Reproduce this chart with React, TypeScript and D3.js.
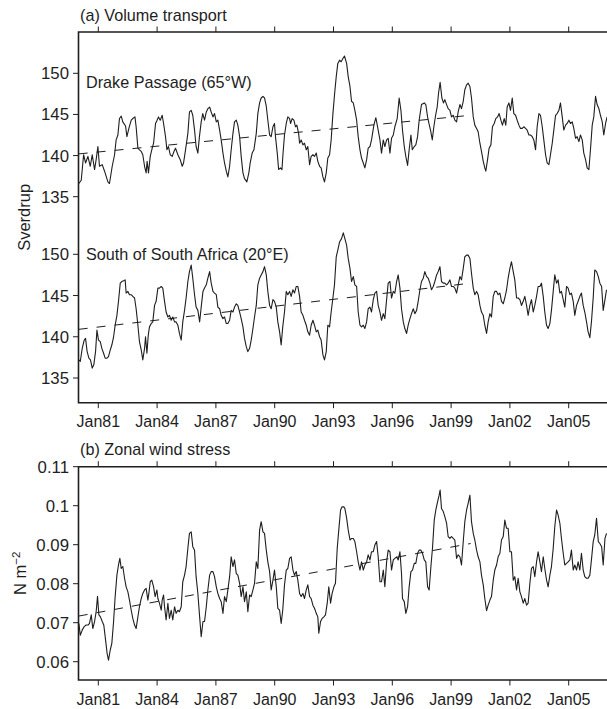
import React from "react";
import * as d3 from "d3";

// time axis ticks
const tickYears = [1981, 1984, 1987, 1990, 1993, 1996, 1999, 2002, 2005];
const tickLabels = ["Jan81", "Jan84", "Jan87", "Jan90", "Jan93", "Jan96", "Jan99", "Jan02", "Jan05"];
const transportTicks = [135, 140, 145, 150];
const windTicks = [0.06, 0.07, 0.08, 0.09, 0.1, 0.11];
const windTickLabels = ["0.06", "0.07", "0.08", "0.09", "0.1", "0.11"];

// trend lines: [year, value]
const drakeTrend: [number, number][] = [[1980, 140.2], [2000, 144.9]];
const africaTrend: [number, number][] = [[1980, 140.9], [2000, 146.5]];
const windTrend: [number, number][] = [[1980, 0.0717], [2000, 0.0903]];

// series: [years since Jan 1980, value]
const drake: [number, number][] = [
  [0.01,136.6],[0.13,137.0],[0.25,140.1],[0.35,139.1],[0.47,139.9],[0.59,138.7],[0.69,140.1],[0.81,138.3],[0.89,139.5],[0.98,141.1],
  [1.06,138.7],[1.20,138.9],[1.32,138.1],[1.49,136.8],[1.57,136.6],[1.71,138.7],[1.83,140.1],[1.91,141.9],[2.00,142.5],[2.08,144.5],
  [2.17,144.8],[2.25,144.1],[2.39,143.6],[2.46,142.3],[2.56,143.3],[2.68,144.3],[2.76,144.5],[2.87,144.7],[2.93,143.5],[3.02,140.9],
  [3.10,140.7],[3.19,140.5],[3.27,140.1],[3.36,138.7],[3.44,137.9],[3.49,139.3],[3.56,137.9],[3.65,139.9],[3.75,140.9],[3.82,141.5],
  [3.92,143.9],[4.00,144.3],[4.07,144.7],[4.16,144.3],[4.26,144.9],[4.33,143.9],[4.43,142.3],[4.50,140.7],[4.58,141.1],[4.67,140.1],
  [4.77,139.9],[4.86,140.5],[4.94,140.9],[5.06,140.1],[5.18,139.5],[5.28,138.7],[5.35,139.1],[5.45,140.7],[5.57,142.7],[5.65,145.3],
  [5.74,145.5],[5.82,144.9],[5.91,143.1],[5.99,141.1],[6.08,140.3],[6.16,142.3],[6.25,144.1],[6.33,145.1],[6.42,144.3],[6.51,145.3],
  [6.59,145.7],[6.68,145.9],[6.76,145.3],[6.85,144.7],[6.93,145.1],[7.02,144.1],[7.10,144.3],[7.19,143.1],[7.27,141.9],[7.36,140.3],
  [7.44,139.1],[7.53,138.1],[7.61,137.4],[7.70,138.7],[7.78,140.7],[7.87,142.7],[7.95,144.1],[8.04,144.3],[8.12,143.7],[8.21,142.3],
  [8.29,139.9],[8.38,137.9],[8.46,137.2],[8.58,136.8],[8.68,137.9],[8.75,139.1],[8.85,140.3],[8.94,140.7],[9.06,142.7],[9.14,145.1],
  [9.23,146.4],[9.31,147.0],[9.40,147.2],[9.48,147.0],[9.57,146.0],[9.65,144.3],[9.74,142.5],[9.82,142.3],[9.91,143.5],[9.99,143.9],
  [10.04,142.3],[10.13,140.3],[10.20,138.3],[10.29,138.5],[10.37,138.3],[10.42,140.1],[10.50,142.5],[10.59,143.9],[10.67,144.7],[10.76,144.5],
  [10.81,143.9],[10.89,144.5],[10.98,144.3],[11.06,143.5],[11.13,143.7],[11.22,142.7],[11.27,141.5],[11.35,141.9],[11.44,141.3],[11.52,141.5],
  [11.61,140.7],[11.69,141.1],[11.78,138.9],[11.86,139.9],[11.95,140.1],[12.03,139.9],[12.12,140.3],[12.20,139.3],[12.29,138.7],[12.37,138.5],
  [12.46,137.4],[12.54,136.8],[12.63,137.9],[12.71,139.7],[12.80,140.1],[12.88,141.9],[12.97,145.1],[13.06,147.6],[13.14,149.6],[13.22,151.2],
  [13.31,151.6],[13.39,151.4],[13.48,151.8],[13.56,152.1],[13.67,151.2],[13.75,149.6],[13.84,148.4],[13.92,146.6],[14.01,146.4],[14.09,145.5],
  [14.18,144.3],[14.26,142.3],[14.35,140.7],[14.43,139.7],[14.52,139.1],[14.60,138.5],[14.69,139.5],[14.77,140.9],[14.86,141.1],[14.94,141.9],
  [15.06,143.7],[15.16,144.6],[15.25,143.5],[15.37,141.9],[15.45,140.3],[15.54,141.9],[15.62,141.1],[15.71,141.9],[15.79,142.1],[15.88,140.3],
  [15.96,142.1],[16.05,142.5],[16.13,143.5],[16.25,144.5],[16.35,147.0],[16.44,145.5],[16.52,143.1],[16.61,141.1],[16.69,139.9],[16.78,138.8],
  [16.86,140.7],[16.95,142.5],[17.02,140.7],[17.12,141.1],[17.20,141.3],[17.29,142.3],[17.37,144.3],[17.49,146.2],[17.63,146.4],[17.71,146.2],
  [17.80,144.7],[17.87,143.9],[17.95,143.1],[18.04,141.9],[18.12,143.5],[18.21,144.9],[18.29,145.9],[18.36,147.6],[18.44,148.9],[18.53,147.0],
  [18.61,146.4],[18.68,146.8],[18.77,146.2],[18.85,145.7],[18.94,145.5],[19.02,144.7],[19.11,144.9],[19.19,144.3],[19.28,144.1],[19.36,145.3],
  [19.45,146.2],[19.53,145.7],[19.62,146.6],[19.70,148.0],[19.79,148.6],[19.87,148.8],[19.96,148.4],[20.04,147.0],[20.13,144.7],[20.21,143.7],
  [20.30,143.3],[20.38,142.9],[20.47,141.5],[20.55,140.5],[20.64,139.3],[20.72,138.5],[20.77,138.1],[20.86,139.5],[20.94,140.9],[21.03,141.3],
  [21.11,143.5],[21.20,143.9],[21.28,144.5],[21.37,144.7],[21.45,145.1],[21.54,144.3],[21.62,143.7],[21.71,144.5],[21.79,143.7],[21.86,145.9],
  [21.95,146.4],[22.03,145.5],[22.12,147.0],[22.20,145.1],[22.29,144.9],[22.37,144.3],[22.46,143.7],[22.54,143.3],[22.63,143.3],[22.71,143.5],
  [22.80,143.3],[22.88,143.1],[22.97,142.5],[23.05,142.5],[23.14,142.3],[23.22,141.9],[23.31,140.7],[23.39,143.5],[23.48,145.1],[23.56,144.9],
  [23.65,143.5],[23.73,141.9],[23.82,140.1],[23.90,139.1],[23.99,138.9],[24.07,140.1],[24.16,141.5],[24.24,143.1],[24.33,144.9],[24.41,145.1],
  [24.50,145.5],[24.58,146.4],[24.67,144.7],[24.75,143.1],[24.84,143.7],[24.92,143.9],[25.01,144.3],[25.09,143.9],[25.18,144.1],[25.26,143.3],
  [25.35,142.1],[25.43,142.3],[25.52,141.7],[25.60,142.5],[25.69,141.9],[25.77,140.3],[25.86,139.5],[25.94,138.5],[26.03,138.3],[26.11,140.7],
  [26.20,143.7],[26.28,144.7],[26.37,147.2],[26.45,146.2],[26.54,145.7],[26.62,144.9],[26.71,144.1],[26.79,142.5],[26.88,143.9],[26.96,144.7]
];

const africa: [number, number][] = [
  [0.01,137.2],[0.08,137.0],[0.18,138.6],[0.28,139.6],[0.35,139.8],[0.43,138.2],[0.52,137.4],[0.60,137.2],[0.69,136.2],[0.77,136.6],
  [0.86,138.2],[0.93,140.8],[1.01,139.6],[1.10,139.4],[1.18,138.6],[1.27,138.0],[1.35,137.4],[1.44,137.4],[1.52,137.6],[1.61,138.4],
  [1.69,139.0],[1.78,140.0],[1.86,141.4],[1.95,142.6],[2.03,144.3],[2.12,146.5],[2.20,146.7],[2.29,146.8],[2.37,146.9],[2.42,145.3],
  [2.51,145.5],[2.59,145.1],[2.68,145.1],[2.76,144.9],[2.85,144.7],[2.93,143.4],[3.02,141.4],[3.10,139.4],[3.19,138.4],[3.27,137.2],
  [3.36,138.6],[3.41,140.0],[3.48,138.0],[3.55,140.2],[3.61,141.2],[3.70,141.6],[3.78,141.8],[3.87,143.8],[3.95,144.3],[4.04,145.9],
  [4.12,145.9],[4.21,146.1],[4.29,145.9],[4.38,144.3],[4.46,143.0],[4.55,142.4],[4.63,142.6],[4.72,142.0],[4.80,142.4],[4.89,141.8],
  [4.97,141.8],[5.06,141.4],[5.14,140.4],[5.23,139.6],[5.31,141.8],[5.40,143.2],[5.48,144.7],[5.57,146.7],[5.65,147.9],[5.74,148.7],
  [5.82,147.1],[5.91,145.1],[5.99,143.6],[6.08,143.2],[6.17,141.8],[6.25,143.6],[6.34,145.5],[6.42,145.9],[6.51,146.3],[6.59,147.1],
  [6.68,147.9],[6.76,146.5],[6.85,145.5],[6.93,145.3],[7.02,145.1],[7.10,143.6],[7.19,143.4],[7.27,142.6],[7.36,142.2],[7.44,142.4],
  [7.53,141.6],[7.61,141.6],[7.70,142.0],[7.78,143.2],[7.87,143.0],[7.95,143.6],[8.04,144.0],[8.12,143.8],[8.21,143.0],[8.29,142.2],
  [8.38,141.2],[8.46,139.8],[8.55,138.8],[8.63,138.2],[8.72,138.6],[8.80,139.6],[8.89,141.0],[8.97,142.4],[9.06,143.8],[9.14,146.3],
  [9.23,147.1],[9.31,147.5],[9.40,147.9],[9.48,148.5],[9.57,147.5],[9.65,145.5],[9.74,143.8],[9.82,143.4],[9.91,144.5],[9.99,144.3],
  [10.08,143.6],[10.16,141.8],[10.25,140.6],[10.33,139.0],[10.41,141.2],[10.50,143.0],[10.59,145.5],[10.67,145.1],[10.76,145.5],[10.84,144.9],
  [10.93,145.7],[11.01,145.3],[11.10,146.1],[11.18,146.1],[11.27,144.9],[11.35,143.0],[11.44,142.6],[11.52,142.0],[11.61,141.4],[11.69,140.6],
  [11.78,140.2],[11.86,141.4],[11.95,142.0],[12.03,141.4],[12.12,140.6],[12.20,140.8],[12.29,140.0],[12.37,139.6],[12.46,137.8],[12.54,137.2],
  [12.63,138.2],[12.71,141.4],[12.80,141.2],[12.88,143.0],[12.97,144.7],[13.05,146.3],[13.14,149.7],[13.22,150.5],[13.31,151.5],[13.41,151.9],
  [13.50,152.6],[13.58,151.9],[13.67,151.1],[13.75,149.5],[13.84,148.3],[13.92,146.7],[14.01,147.3],[14.09,146.3],[14.18,146.1],[14.26,143.0],
  [14.35,141.4],[14.43,141.2],[14.52,141.4],[14.60,141.0],[14.69,141.8],[14.77,143.4],[14.86,143.6],[14.94,143.0],[15.03,144.5],[15.11,145.3],
  [15.20,145.5],[15.28,143.8],[15.37,143.0],[15.45,142.0],[15.54,142.8],[15.62,142.2],[15.71,144.5],[15.79,146.5],[15.88,146.7],[15.96,144.7],
  [16.05,145.5],[16.13,145.3],[16.22,146.7],[16.30,147.5],[16.39,145.9],[16.47,143.4],[16.56,141.8],[16.64,141.0],[16.73,140.4],[16.81,141.4],
  [16.90,142.2],[16.98,142.8],[17.07,143.4],[17.15,142.8],[17.24,143.2],[17.32,144.3],[17.41,145.7],[17.49,146.7],[17.58,147.1],[17.66,147.9],
  [17.75,147.3],[17.83,147.1],[17.92,146.5],[18.00,145.7],[18.09,146.1],[18.17,146.7],[18.26,147.5],[18.34,147.9],[18.43,148.5],[18.51,146.7],
  [18.60,146.5],[18.68,146.5],[18.77,146.3],[18.85,146.5],[18.94,146.9],[19.02,146.1],[19.11,146.1],[19.19,145.9],[19.28,145.3],[19.36,146.3],
  [19.45,147.3],[19.53,146.9],[19.62,148.3],[19.70,149.7],[19.79,149.9],[19.87,149.9],[19.96,149.5],[20.04,147.7],[20.13,145.9],[20.21,145.1],
  [20.30,145.5],[20.38,145.1],[20.47,143.8],[20.55,143.0],[20.64,142.6],[20.72,141.4],[20.81,140.4],[20.89,141.8],[20.98,142.8],[21.06,142.4],
  [21.15,144.9],[21.23,145.5],[21.32,145.5],[21.40,145.1],[21.49,145.3],[21.57,144.3],[21.66,144.0],[21.74,144.7],[21.83,145.7],[21.91,147.1],
  [22.00,148.3],[22.08,149.1],[22.17,147.9],[22.25,146.9],[22.34,144.7],[22.42,144.7],[22.51,144.5],[22.59,143.8],[22.68,144.3],[22.76,144.9],
  [22.85,143.8],[22.93,142.6],[23.02,143.8],[23.10,144.5],[23.19,143.0],[23.27,143.8],[23.36,144.9],[23.44,146.1],[23.53,146.1],[23.61,146.5],
  [23.70,144.9],[23.78,143.0],[23.87,141.4],[23.95,141.0],[24.04,141.6],[24.12,143.2],[24.21,145.5],[24.29,147.5],[24.38,146.5],[24.46,146.9],
  [24.55,145.3],[24.63,145.5],[24.72,144.5],[24.80,143.6],[24.89,146.1],[24.97,145.9],[25.06,145.1],[25.14,145.3],[25.23,144.3],[25.31,142.6],
  [25.40,143.8],[25.48,144.3],[25.57,144.9],[25.65,145.3],[25.74,143.8],[25.82,143.0],[25.91,141.8],[25.99,140.6],[26.08,139.9],[26.16,141.8],
  [26.25,144.7],[26.33,148.1],[26.42,147.9],[26.51,147.3],[26.59,146.5],[26.68,146.1],[26.76,143.2],[26.85,144.5],[26.93,145.7]
];

const wind: [number, number][] = [
  [0.01,0.0698],[0.08,0.0668],[0.18,0.0681],[0.28,0.0690],[0.38,0.0694],[0.48,0.0694],[0.55,0.0698],[0.64,0.0720],[0.72,0.0685],[0.81,0.0703],
  [0.89,0.0728],[0.96,0.0768],[1.03,0.0720],[1.11,0.0715],[1.20,0.0703],[1.28,0.0694],[1.37,0.0656],[1.45,0.0621],[1.52,0.0604],[1.61,0.0630],
  [1.69,0.0647],[1.78,0.0703],[1.86,0.0767],[1.95,0.0822],[2.03,0.0848],[2.10,0.0865],[2.17,0.0839],[2.25,0.0844],[2.34,0.0814],[2.42,0.0792],
  [2.51,0.0779],[2.59,0.0758],[2.68,0.0732],[2.76,0.0711],[2.85,0.0694],[2.93,0.0685],[3.02,0.0715],[3.10,0.0741],[3.19,0.0762],[3.27,0.0775],
  [3.36,0.0784],[3.44,0.0788],[3.53,0.0758],[3.58,0.0775],[3.65,0.0805],[3.73,0.0809],[3.82,0.0792],[3.90,0.0767],[3.99,0.0784],[4.04,0.0762],
  [4.12,0.0750],[4.21,0.0732],[4.26,0.0758],[4.33,0.0771],[4.38,0.0741],[4.46,0.0707],[4.55,0.0750],[4.63,0.0711],[4.72,0.0732],[4.80,0.0707],
  [4.89,0.0741],[4.97,0.0724],[5.06,0.0732],[5.14,0.0728],[5.23,0.0741],[5.31,0.0805],[5.40,0.0822],[5.48,0.0844],[5.57,0.0891],[5.65,0.0929],
  [5.74,0.0933],[5.82,0.0895],[5.91,0.0886],[5.99,0.0818],[6.08,0.0775],[6.17,0.0715],[6.25,0.0664],[6.34,0.0703],[6.42,0.0703],[6.51,0.0741],
  [6.59,0.0784],[6.68,0.0822],[6.76,0.0831],[6.85,0.0831],[6.93,0.0818],[7.02,0.0792],[7.10,0.0775],[7.19,0.0762],[7.27,0.0754],[7.36,0.0724],
  [7.44,0.0767],[7.53,0.0754],[7.61,0.0784],[7.70,0.0818],[7.78,0.0869],[7.87,0.0844],[7.95,0.0861],[8.04,0.0826],[8.12,0.0822],[8.21,0.0801],
  [8.29,0.0767],[8.38,0.0792],[8.46,0.0754],[8.55,0.0779],[8.63,0.0728],[8.72,0.0771],[8.80,0.0767],[8.89,0.0784],[8.97,0.0801],[9.06,0.0856],
  [9.14,0.0839],[9.23,0.0938],[9.31,0.0959],[9.40,0.0933],[9.48,0.0929],[9.57,0.0886],[9.65,0.0856],[9.74,0.0831],[9.82,0.0784],[9.91,0.0809],
  [9.99,0.0835],[10.08,0.0792],[10.16,0.0737],[10.25,0.0732],[10.33,0.0698],[10.41,0.0732],[10.50,0.0797],[10.59,0.0835],[10.67,0.0839],[10.76,0.0865],
  [10.84,0.0869],[10.93,0.0835],[11.01,0.0822],[11.10,0.0831],[11.18,0.0809],[11.27,0.0775],[11.35,0.0767],[11.44,0.0775],[11.52,0.0762],[11.61,0.0784],
  [11.69,0.0797],[11.78,0.0767],[11.86,0.0762],[11.95,0.0745],[12.03,0.0737],[12.12,0.0724],[12.20,0.0715],[12.25,0.0673],[12.34,0.0703],[12.42,0.0711],
  [12.51,0.0715],[12.59,0.0720],[12.68,0.0750],[12.76,0.0792],[12.85,0.0750],[12.93,0.0775],[13.02,0.0792],[13.10,0.0801],[13.19,0.0891],[13.27,0.0938],
  [13.36,0.0989],[13.44,0.0997],[13.53,0.0997],[13.58,0.0993],[13.67,0.0968],[13.75,0.0938],[13.84,0.0912],[13.92,0.0916],[14.01,0.0916],[14.09,0.0908],
  [14.18,0.0882],[14.26,0.0856],[14.35,0.0835],[14.43,0.0856],[14.52,0.0835],[14.60,0.0848],[14.69,0.0856],[14.77,0.0874],[14.86,0.0861],[14.94,0.0882],
  [15.03,0.0882],[15.11,0.0899],[15.20,0.0908],[15.28,0.0869],[15.37,0.0805],[15.45,0.0805],[15.54,0.0835],[15.62,0.0792],[15.71,0.0856],[15.79,0.0886],
  [15.88,0.0882],[15.96,0.0835],[16.05,0.0861],[16.13,0.0865],[16.22,0.0869],[16.30,0.0861],[16.39,0.0882],[16.47,0.0826],[16.52,0.0762],[16.61,0.0754],
  [16.69,0.0724],[16.78,0.0741],[16.86,0.0792],[16.95,0.0831],[17.03,0.0835],[17.12,0.0852],[17.20,0.0852],[17.29,0.0878],[17.37,0.0886],[17.46,0.0886],
  [17.54,0.0878],[17.63,0.0861],[17.71,0.0856],[17.80,0.0792],[17.88,0.0784],[17.97,0.0844],[18.05,0.0891],[18.14,0.0963],[18.22,0.0989],[18.31,0.1010],
  [18.39,0.1027],[18.44,0.1040],[18.51,0.0993],[18.60,0.0985],[18.68,0.0972],[18.77,0.0955],[18.85,0.0921],[18.94,0.0916],[19.02,0.0921],[19.11,0.0916],
  [19.19,0.0912],[19.28,0.0865],[19.36,0.0874],[19.45,0.0869],[19.53,0.0848],[19.62,0.0908],[19.70,0.0959],[19.79,0.0989],[19.87,0.1006],[19.96,0.1027],
  [20.04,0.0959],[20.13,0.0929],[20.21,0.0912],[20.30,0.0886],[20.38,0.0869],[20.47,0.0856],[20.55,0.0822],[20.64,0.0797],[20.72,0.0762],[20.81,0.0731],
  [20.89,0.0745],[20.98,0.0758],[21.06,0.0767],[21.15,0.0809],[21.23,0.0835],[21.32,0.0848],[21.40,0.0869],[21.49,0.0878],[21.57,0.0912],[21.66,0.0921],
  [21.74,0.0963],[21.83,0.0942],[21.91,0.0942],[22.00,0.0882],[22.08,0.0882],[22.17,0.0809],[22.25,0.0818],[22.34,0.0784],[22.42,0.0814],[22.51,0.0779],
  [22.59,0.0767],[22.68,0.0750],[22.76,0.0762],[22.85,0.0745],[22.93,0.0750],[23.02,0.0801],[23.10,0.0839],[23.19,0.0844],[23.27,0.0818],[23.36,0.0856],
  [23.44,0.0882],[23.53,0.0856],[23.61,0.0831],[23.70,0.0869],[23.78,0.0839],[23.87,0.0809],[23.95,0.0792],[24.04,0.0822],[24.12,0.0844],[24.21,0.0891],
  [24.29,0.0946],[24.38,0.0989],[24.46,0.0976],[24.55,0.0955],[24.63,0.0916],[24.72,0.0878],[24.80,0.0848],[24.89,0.0852],[24.97,0.0856],[25.06,0.0861],
  [25.14,0.0886],[25.23,0.0835],[25.31,0.0848],[25.40,0.0835],[25.48,0.0856],[25.57,0.0835],[25.65,0.0878],[25.74,0.0835],[25.82,0.0818],[25.91,0.0814],
  [25.99,0.0814],[26.08,0.0822],[26.16,0.0861],[26.25,0.0908],[26.33,0.0925],[26.42,0.0968],[26.51,0.0908],[26.59,0.0903],[26.68,0.0895],[26.76,0.0848],
  [26.85,0.0916],[26.93,0.0929]
];

const FONT = "'Liberation Sans', Arial, Helvetica, sans-serif";
const INK = "#1e1e1e";

export default function App() {
  const W = 607;
  const H = 709;
  const left = 78.5;
  const right = 610;
  const aTop = 32, aBottom = 402.7;
  const bTop = 466.7, bBottom = 680;

  const x = d3.scaleLinear().domain([1980, 2007]).range([78.7, 607.9]);
  const yD = d3.scaleLinear().domain([135, 150]).range([196.7, 73.3]);
  const yS = d3.scaleLinear().domain([135, 150]).range([378, 254.3]);
  const yW = d3.scaleLinear().domain([0.06, 0.11]).range([661.7, 466.7]);

  const mk = (y: d3.ScaleLinear<number, number>) =>
    d3.line<[number, number]>().x((d) => x(1980 + d[0])).y((d) => y(d[1]));
  const mkTrend = (y: d3.ScaleLinear<number, number>) =>
    d3.line<[number, number]>().x((d) => x(d[0])).y((d) => y(d[1]));

  const tickLen = 5.5;
  const xTicks = (yTopEdge: number, yBottomEdge: number, labelY: number, key: string) => (
    <g key={key}>
      {tickYears.map((yr, i) => (
        <g key={yr}>
          <line x1={x(yr)} x2={x(yr)} y1={yTopEdge} y2={yTopEdge - tickLen} stroke={INK} strokeWidth={1} />
          <line x1={x(yr)} x2={x(yr)} y1={yBottomEdge} y2={yBottomEdge + tickLen} stroke={INK} strokeWidth={1} />
          <text x={x(yr)} y={labelY} textAnchor="middle" fontSize={16} fill={INK} fontFamily={FONT}>
            {tickLabels[i]}
          </text>
        </g>
      ))}
    </g>
  );

  const yTicks = (y: d3.ScaleLinear<number, number>, vals: number[], labels: string[], key: string) => (
    <g key={key}>
      {vals.map((v, i) => (
        <g key={v}>
          <line x1={left - tickLen} x2={left} y1={y(v)} y2={y(v)} stroke={INK} strokeWidth={1} />
          <text x={69} y={y(v)} dy="0.36em" textAnchor="end" fontSize={16.8} fill={INK} fontFamily={FONT}>
            {labels[i]}
          </text>
        </g>
      ))}
    </g>
  );

  const frame = (top: number, bottom: number) => (
    <path d={`M${right},${top}H${left}V${bottom}H${right}`} fill="none" stroke={INK} strokeWidth={1.6} />
  );

  return (
    <div style={{ position: "absolute", left: 0, top: 0 }}>
      <svg width={W} height={H} viewBox={`0 0 ${W} ${H}`} style={{ display: "block", background: "#fff" }}>
        <rect width={W} height={H} fill="#fff" />
        {/* Panel (a) */}
        <text x={80} y={21} fontSize={16.2} fill={INK} fontFamily={FONT}>(a) Volume transport</text>
        {frame(aTop, aBottom)}
        {xTicks(aTop, aBottom, 427, "xa")}
        {yTicks(yD, transportTicks, transportTicks.map(String), "yd")}
        {yTicks(yS, transportTicks, transportTicks.map(String), "ys")}
        <text transform={`translate(30,${(aTop + aBottom) / 2}) rotate(-90)`} textAnchor="middle" fontSize={16.5} fill={INK} fontFamily={FONT}>Sverdrup</text>
        <text x={86} y={88.3} fontSize={16.2} fill={INK} fontFamily={FONT}>Drake Passage (65°W)</text>
        <text x={86} y={260} fontSize={16.2} fill={INK} fontFamily={FONT}>South of South Africa (20°E)</text>
        <path d={mk(yD)(drake) || ""} fill="none" stroke={INK} strokeWidth={1.1} strokeLinejoin="round" />
        <path d={mk(yS)(africa) || ""} fill="none" stroke={INK} strokeWidth={1.1} strokeLinejoin="round" />
        <path d={mkTrend(yD)(drakeTrend) || ""} fill="none" stroke={INK} strokeWidth={1} strokeDasharray="9,9" />
        <path d={mkTrend(yS)(africaTrend) || ""} fill="none" stroke={INK} strokeWidth={1} strokeDasharray="9,9" />

        {/* Panel (b) */}
        <text x={80} y={455} fontSize={16.2} fill={INK} fontFamily={FONT}>(b) Zonal wind stress</text>
        {frame(bTop, bBottom)}
        {xTicks(bTop, bBottom, 705, "xb")}
        {yTicks(yW, windTicks, windTickLabels, "yw")}
        <text transform={`translate(26,${(bTop + bBottom) / 2}) rotate(-90)`} textAnchor="middle" fontSize={16.5} fill={INK} fontFamily={FONT}>
          N m<tspan dy={-6} fontSize={11.5}>−2</tspan>
        </text>
        <path d={mk(yW)(wind) || ""} fill="none" stroke={INK} strokeWidth={1.1} strokeLinejoin="round" />
        <path d={mkTrend(yW)(windTrend) || ""} fill="none" stroke={INK} strokeWidth={1} strokeDasharray="9,9" />
      </svg>
    </div>
  );
}
